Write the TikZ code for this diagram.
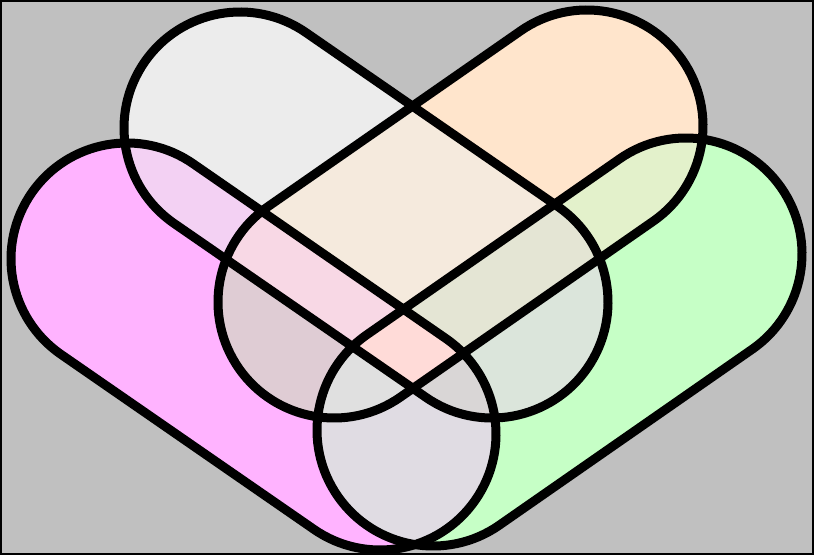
\documentclass[tikz,border=0pt]{standalone}
\definecolor{bgc}{HTML}{C0C0C0}
\definecolor{cG}{HTML}{ECECEC}
\definecolor{cO}{HTML}{FFE5CC}
\definecolor{cM}{HTML}{FFB3FF}
\definecolor{cN}{HTML}{C6FFC6}
\definecolor{cGO}{HTML}{F5EADD}
\definecolor{cGM}{HTML}{F3D1F3}
\definecolor{cON}{HTML}{E3F1CB}
\definecolor{cGN}{HTML}{DBE5DB}
\definecolor{cOM}{HTML}{DFCCD4}
\definecolor{cMN}{HTML}{E0DCE3}
\definecolor{cGOM}{HTML}{F8D8E5}
\definecolor{cGON}{HTML}{E4E5D4}
\definecolor{cGMN}{HTML}{D9D6D6}
\definecolor{cOMN}{HTML}{E0E0E0}
\definecolor{cGOMN}{HTML}{FFDBD8}
\begin{document}
\begin{tikzpicture}[x=1pt,y=1pt,outline/.style={draw=black,line width=9pt}]
\def\rr{116}
% gray capsule (upper left)
\def\pG{([shift={(55.4:\rr)}]240,427) -- ([shift={(55.4:\rr)}]492,253) arc[start angle=55.4,end angle=-124.6,radius=\rr] -- ([shift={(-124.6:\rr)}]240,427) arc[start angle=-124.6,end angle=-304.6,radius=\rr] -- cycle}
% orange capsule (upper right)
\def\pO{([shift={(304.8:\rr)}]587,429) -- ([shift={(304.8:\rr)}]334,253) arc[start angle=304.8,end angle=124.8,radius=\rr] -- ([shift={(124.8:\rr)}]587,429) arc[start angle=124.8,end angle=-55.2,radius=\rr] -- cycle}
% magenta capsule (lower left)
\def\pM{([shift={(55.3:\rr)}]127,296) -- ([shift={(55.3:\rr)}]380,121) arc[start angle=55.3,end angle=-124.7,radius=\rr] -- ([shift={(-124.7:\rr)}]127,296) arc[start angle=-124.7,end angle=-304.7,radius=\rr] -- cycle}
% green capsule (lower right)
\def\pN{([shift={(304.8:\rr)}]686,301) -- ([shift={(304.8:\rr)}]433,125) arc[start angle=304.8,end angle=124.8,radius=\rr] -- ([shift={(124.8:\rr)}]686,301) arc[start angle=124.8,end angle=-55.2,radius=\rr] -- cycle}
\useasboundingbox (0,0) rectangle (814,555);
\fill[bgc] (0,0) rectangle (814,555);
% single sets
\fill[cG] \pG;
\fill[cO] \pO;
\fill[cM] \pM;
\fill[cN] \pN;
% pairs
\begin{scope}\clip \pG; \fill[cGO] \pO;\end{scope}
\begin{scope}\clip \pG; \fill[cGM] \pM;\end{scope}
\begin{scope}\clip \pG; \fill[cGN] \pN;\end{scope}
\begin{scope}\clip \pO; \fill[cOM] \pM;\end{scope}
\begin{scope}\clip \pO; \fill[cON] \pN;\end{scope}
\begin{scope}\clip \pM; \fill[cMN] \pN;\end{scope}
% triples
\begin{scope}\clip \pG; \clip \pO; \fill[cGOM] \pM;\end{scope}
\begin{scope}\clip \pG; \clip \pO; \fill[cGON] \pN;\end{scope}
\begin{scope}\clip \pG; \clip \pM; \fill[cGMN] \pN;\end{scope}
\begin{scope}\clip \pO; \clip \pM; \fill[cOMN] \pN;\end{scope}
% all four
\begin{scope}\clip \pG; \clip \pO; \clip \pM; \fill[cGOMN] \pN;\end{scope}
% outlines
\path[outline] \pG;
\path[outline] \pO;
\path[outline] \pM;
\path[outline] \pN;
\draw[line width=2pt] (1,1) rectangle (813,554);
\end{tikzpicture}
\end{document}
